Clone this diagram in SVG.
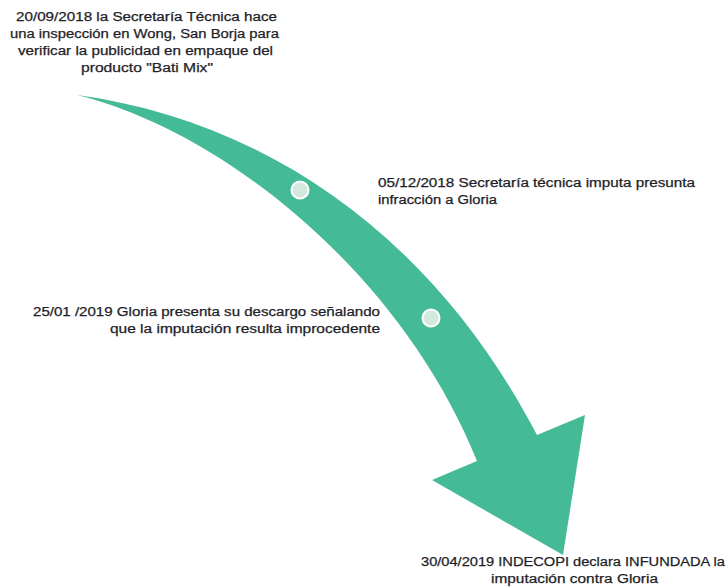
<svg xmlns="http://www.w3.org/2000/svg" width="728" height="587" viewBox="0 0 728 587">
<style>
.t{font-family:"Liberation Sans",Arial,sans-serif;font-size:12.5px;fill:#1e1e28;stroke:#1e1e28;stroke-width:0.25}
.dot{fill:#d3e9dd;stroke:#ffffff;stroke-width:2}
</style>
<rect width="728" height="587" fill="#ffffff"/>
<g id="arrow">
<path d="M77,95 C260,120 430,230 537,435 L585,415 L563,555 L432,480 L477,461 C400,270 220,130 77,95 Z" fill="#45ba96"/>
</g>
<g id="dots">
<circle class="dot" cx="300" cy="190" r="8.5"/>
<circle class="dot" cx="431" cy="318" r="8.5"/>
</g>
<g id="event1">
<text class="t" x="16" y="21" textLength="261" lengthAdjust="spacingAndGlyphs">20/09/2018 la Secretaría Técnica hace</text>
<text class="t" x="10" y="38" textLength="269" lengthAdjust="spacingAndGlyphs">una inspección en Wong, San Borja para</text>
<text class="t" x="18" y="55" textLength="255" lengthAdjust="spacingAndGlyphs">verificar la publicidad en empaque del</text>
<text class="t" x="81" y="72" textLength="132" lengthAdjust="spacingAndGlyphs">producto "Bati Mix"</text>
</g>
<g id="event2">
<text class="t" x="378" y="187" textLength="317" lengthAdjust="spacingAndGlyphs">05/12/2018 Secretaría técnica imputa presunta</text>
<text class="t" x="378" y="204" textLength="119" lengthAdjust="spacingAndGlyphs">infracción a Gloria</text>
</g>
<g id="event3">
<text class="t" x="33" y="316" textLength="347" lengthAdjust="spacingAndGlyphs">25/01 /2019 Gloria presenta su descargo señalando</text>
<text class="t" x="110" y="333" textLength="270" lengthAdjust="spacingAndGlyphs">que la imputación resulta improcedente</text>
</g>
<g id="event4">
<text class="t" x="421" y="566" textLength="304" lengthAdjust="spacingAndGlyphs">30/04/2019 INDECOPI declara INFUNDADA la</text>
<text class="t" x="491" y="583" textLength="167" lengthAdjust="spacingAndGlyphs">imputación contra Gloria</text>
</g>
</svg>
